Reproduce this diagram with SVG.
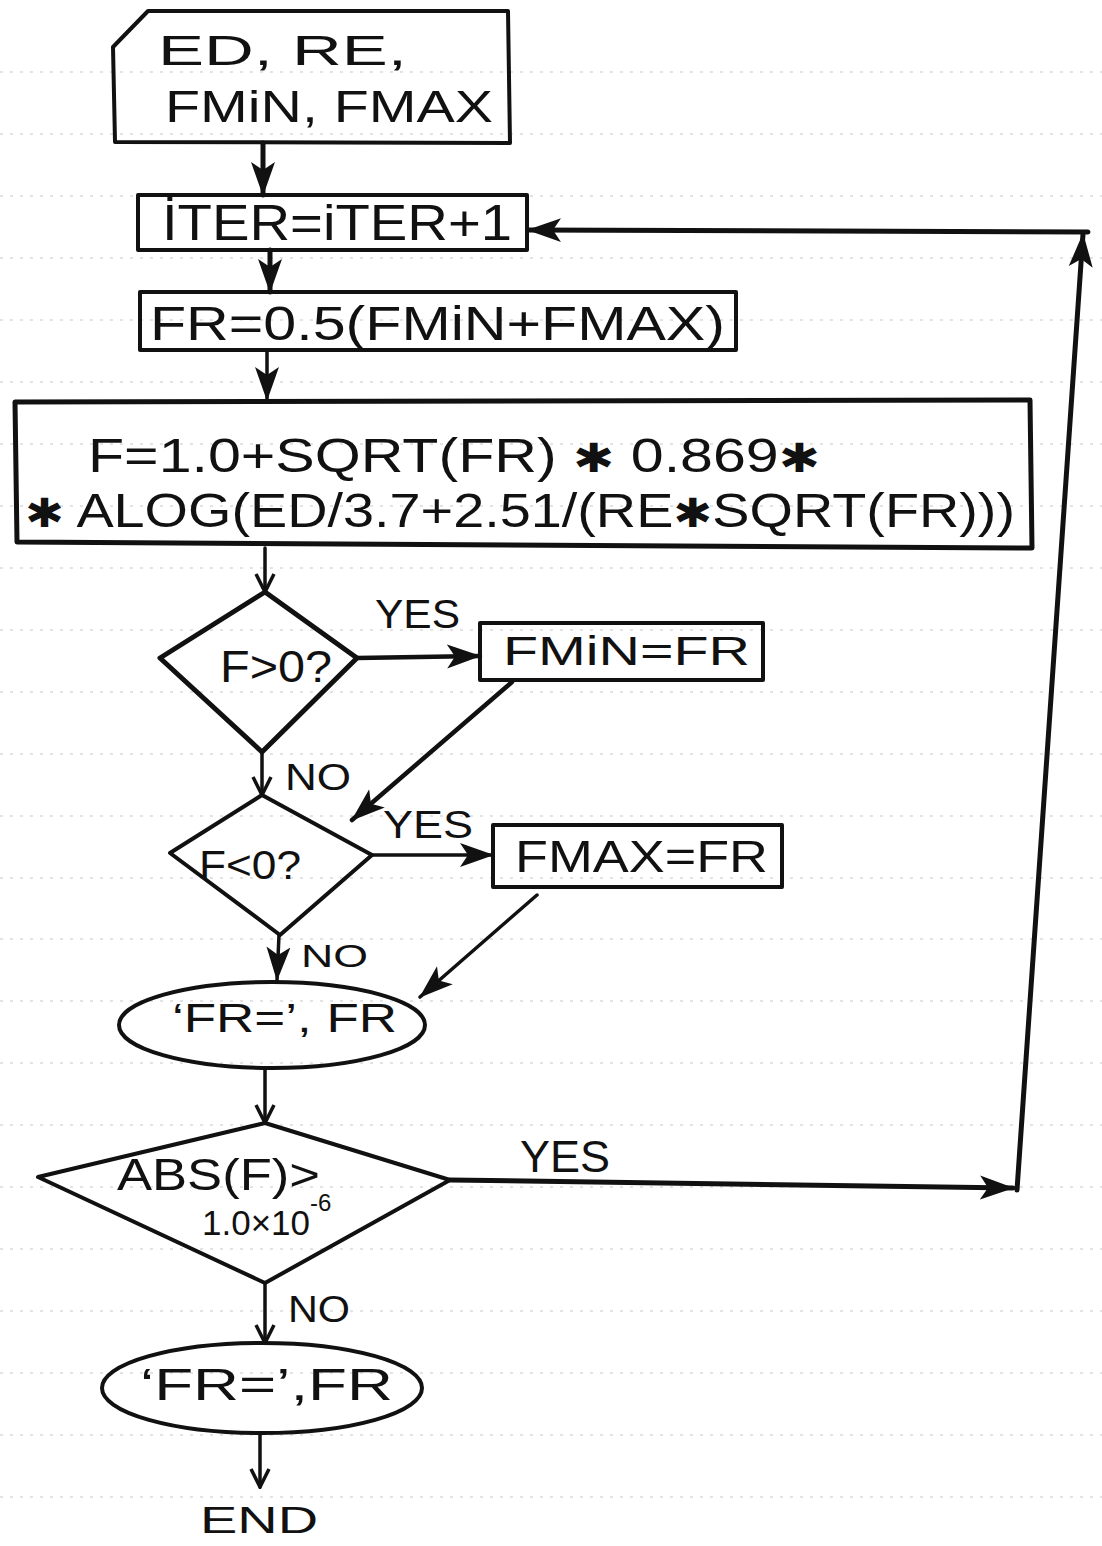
<svg xmlns="http://www.w3.org/2000/svg" width="1102" height="1546" viewBox="0 0 1102 1546">
<style>
.bg{fill:#fff}
.rule{stroke:#c8c8c8;stroke-width:1.2;stroke-dasharray:3 7}
.shape{fill:none;stroke:#111;stroke-width:4;stroke-linejoin:round}
.conn{fill:none;stroke:#111;stroke-width:3.5;stroke-linecap:round}
.t{font-family:"Liberation Sans",Arial,sans-serif;fill:#111}
.ast{font-family:"DejaVu Sans",sans-serif;font-size:40px}
</style>
<defs>
<marker id="ah" viewBox="0 0 34 26" refX="33" refY="13" markerWidth="34" markerHeight="26" markerUnits="userSpaceOnUse" orient="auto"><path d="M0,1 L34,13 L0,25 L8,13 Z" fill="#111"/></marker>
<marker id="av" viewBox="0 0 22 22" refX="20" refY="11" markerWidth="22" markerHeight="22" markerUnits="userSpaceOnUse" orient="auto"><path d="M2,2 L20,11 L2,20" fill="none" stroke="#111" stroke-width="3.5"/></marker>
</defs>
<rect class="bg" x="0" y="0" width="1102" height="1546"/>
<g id="ruled-lines">
<line class="rule" x1="0" y1="72" x2="1102" y2="72"/>
<line class="rule" x1="0" y1="134" x2="1102" y2="134"/>
<line class="rule" x1="0" y1="196" x2="1102" y2="196"/>
<line class="rule" x1="0" y1="258" x2="1102" y2="258"/>
<line class="rule" x1="0" y1="320" x2="1102" y2="320"/>
<line class="rule" x1="0" y1="382" x2="1102" y2="382"/>
<line class="rule" x1="0" y1="444" x2="1102" y2="444"/>
<line class="rule" x1="0" y1="506" x2="1102" y2="506"/>
<line class="rule" x1="0" y1="568" x2="1102" y2="568"/>
<line class="rule" x1="0" y1="630" x2="1102" y2="630"/>
<line class="rule" x1="0" y1="692" x2="1102" y2="692"/>
<line class="rule" x1="0" y1="754" x2="1102" y2="754"/>
<line class="rule" x1="0" y1="816" x2="1102" y2="816"/>
<line class="rule" x1="0" y1="878" x2="1102" y2="878"/>
<line class="rule" x1="0" y1="939" x2="1102" y2="939"/>
<line class="rule" x1="0" y1="1001" x2="1102" y2="1001"/>
<line class="rule" x1="0" y1="1063" x2="1102" y2="1063"/>
<line class="rule" x1="0" y1="1125" x2="1102" y2="1125"/>
<line class="rule" x1="0" y1="1187" x2="1102" y2="1187"/>
<line class="rule" x1="0" y1="1249" x2="1102" y2="1249"/>
<line class="rule" x1="0" y1="1311" x2="1102" y2="1311"/>
<line class="rule" x1="0" y1="1373" x2="1102" y2="1373"/>
<line class="rule" x1="0" y1="1435" x2="1102" y2="1435"/>
<line class="rule" x1="0" y1="1497" x2="1102" y2="1497"/>
</g>

<g id="connectors">
<path class="conn" style="stroke-width:5" d="M263,143 L263,195" marker-end="url(#ah)"/>
<path class="conn" style="stroke-width:5" d="M270,250 L270,292" marker-end="url(#ah)"/>
<path class="conn" d="M267,350 L267,400" marker-end="url(#ah)"/>
<path class="conn" d="M265,548 L265,592" marker-end="url(#av)"/>
<path class="conn" style="stroke-width:4.5" d="M357,658 L480,656" marker-end="url(#ah)"/>
<path class="conn" style="stroke-width:4.5" d="M512,682 L352,820" marker-end="url(#ah)"/>
<path class="conn" d="M262,752 L262,795" marker-end="url(#av)"/>
<path class="conn" d="M372,855 L493,855" marker-end="url(#ah)"/>
<path class="conn" d="M537,895 L420,997" marker-end="url(#ah)"/>
<path class="conn" d="M279,935 L277,980" marker-end="url(#ah)"/>
<path class="conn" d="M265,1068 L265,1123" marker-end="url(#av)"/>
<path class="conn" style="stroke-width:5" d="M450,1180 L1013,1188" marker-end="url(#ah)"/>
<path class="conn" style="stroke-width:5" d="M1017,1190 L1083,234" marker-end="url(#ah)"/>
<path class="conn" style="stroke-width:5" d="M1088,232 L528,230" marker-end="url(#ah)"/>
<path class="conn" d="M265,1283 L265,1343" marker-end="url(#av)"/>
<path class="conn" d="M260,1433 L260,1487" marker-end="url(#av)"/>
<text class="t" x="375" y="628" font-size="40" textLength="85" lengthAdjust="spacingAndGlyphs">YES</text>
<text class="t" x="285" y="790" font-size="36" textLength="66" lengthAdjust="spacingAndGlyphs">NO</text>
<text class="t" x="383" y="838" font-size="38" textLength="90" lengthAdjust="spacingAndGlyphs">YES</text>
<text class="t" x="301" y="967" font-size="32" textLength="67" lengthAdjust="spacingAndGlyphs">NO</text>
<text class="t" x="520" y="1172" font-size="44" textLength="90" lengthAdjust="spacingAndGlyphs">YES</text>
<text class="t" x="288" y="1322" font-size="36" textLength="62" lengthAdjust="spacingAndGlyphs">NO</text>
</g>

<g id="input">
<polygon class="shape" points="113,47 148,11 508,11 510,143 115,142"/>
<text class="t" x="158" y="65" font-size="42" textLength="249" lengthAdjust="spacingAndGlyphs">ED, RE,</text>
<text class="t" x="165" y="122" font-size="44" textLength="328" lengthAdjust="spacingAndGlyphs">FMiN, FMAX</text>
</g>

<g id="iter">
<rect class="shape" x="138" y="195" width="389" height="55"/>
<text class="t" x="162" y="240" font-size="50" textLength="350" lengthAdjust="spacingAndGlyphs">İTER=iTER+1</text>
</g>

<g id="fr">
<rect class="shape" x="140" y="292" width="596" height="58"/>
<text class="t" x="150" y="340" font-size="48" textLength="575" lengthAdjust="spacingAndGlyphs">FR=0.5(FMiN+FMAX)</text>
</g>

<g id="f-calc">
<polygon class="shape" style="stroke-width:5" points="15,402 1030,400 1032,548 17,542"/>
<text class="t" x="88" y="472" font-size="48" textLength="732" lengthAdjust="spacingAndGlyphs">F=1.0+SQRT(FR) <tspan class="ast">✱</tspan> 0.869<tspan class="ast">✱</tspan></text>
<text class="t" x="25" y="527" font-size="48" textLength="990" lengthAdjust="spacingAndGlyphs"><tspan class="ast">✱</tspan> ALOG(ED/3.7+2.51/(RE<tspan class="ast">✱</tspan>SQRT(FR)))</text>
</g>

<g id="dec-fpos">
<polygon class="shape" style="stroke-width:5" points="265,592 357,658 262,752 160,658"/>
<text class="t" x="220" y="682" font-size="44" textLength="112" lengthAdjust="spacingAndGlyphs">F&gt;0?</text>
</g>

<g id="fmin">
<rect class="shape" x="480" y="623" width="283" height="57"/>
<text class="t" x="503" y="665" font-size="40" textLength="247" lengthAdjust="spacingAndGlyphs">FMiN=FR</text>
</g>

<g id="dec-fneg">
<polygon class="shape" points="262,795 372,855 280,935 170,853"/>
<text class="t" x="199" y="879" font-size="40" textLength="102" lengthAdjust="spacingAndGlyphs">F&lt;0?</text>
</g>

<g id="fmax">
<rect class="shape" x="493" y="825" width="289" height="62"/>
<text class="t" x="515" y="872" font-size="44" textLength="253" lengthAdjust="spacingAndGlyphs">FMAX=FR</text>
</g>

<g id="print1">
<ellipse class="shape" cx="272" cy="1025" rx="153" ry="43"/>
<text class="t" x="172" y="1032" font-size="40" textLength="225" lengthAdjust="spacingAndGlyphs">‘FR=’, FR</text>
</g>

<g id="dec-abs">
<polygon class="shape" points="265,1123 450,1180 265,1283 38,1177"/>
<text class="t" x="117" y="1190" font-size="44" textLength="203" lengthAdjust="spacingAndGlyphs">ABS(F)&gt;</text>
<text class="t" x="202" y="1235" font-size="35">1.0×10<tspan font-size="24" dy="-24">-6</tspan></text>
</g>

<g id="print2">
<ellipse class="shape" cx="262" cy="1388" rx="160" ry="45"/>
<text class="t" x="140" y="1400" font-size="44" textLength="253" lengthAdjust="spacingAndGlyphs">‘FR=’,FR</text>
</g>

<g id="end">
<text class="t" x="200" y="1533" font-size="36" textLength="118" lengthAdjust="spacingAndGlyphs">END</text>
</g>
</svg>
